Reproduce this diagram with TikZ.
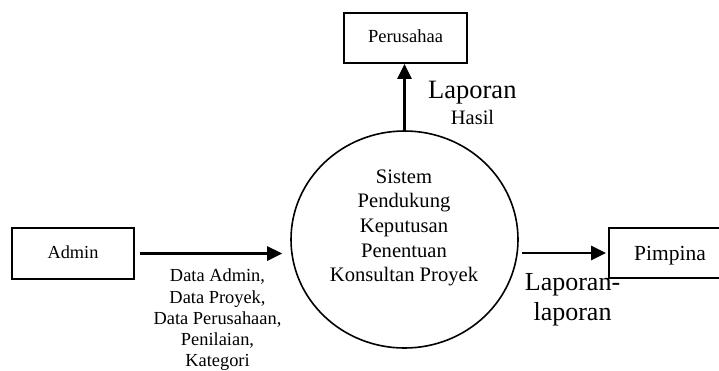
\documentclass[tikz,border=0pt]{standalone}
\usepackage{fontspec}
\setmainfont{Liberation Serif}
\usetikzlibrary{arrows.meta,shapes.geometric}
\begin{document}
\begin{tikzpicture}[x=1pt,y=-1pt,
  box/.style={draw,line width=1.8pt,minimum width=122pt,minimum height=50pt,inner sep=0pt,text height=13pt,text depth=4pt},
  proc/.style={draw,ellipse,line width=1.6pt,minimum width=227pt,minimum height=217pt,inner sep=0pt},
  flow/.style={line width=2.7pt,-{Triangle[length=15pt,width=14pt]}},
  lbl/.style={inner sep=0pt,align=center}]
\useasboundingbox (0,0) rectangle (719,370);
\clip (0,0) rectangle (719,370);
\node[proc] (sys) at (404.5,239.5) {};
\node[lbl,font=\fontsize{20.6}{24.6}\selectfont] (systxt) at (404,227.8) {Sistem\\Pendukung\\Keputusan\\Penentuan\\Konsultan Proyek};
\node[box,minimum width=123pt,font=\fontsize{18.5}{22}\selectfont] (per) at (405.5,38) {Perusahaa};
\node[box,minimum height=51pt,font=\fontsize{18.3}{22}\selectfont] (adm) at (73,253.5) {Admin};
\node[box,text height=15pt,text depth=1pt,font=\fontsize{21.5}{25}\selectfont] (pim) at (670,253) {Pimpina};
\draw[flow] (sys.north) -- (sys.north |- per.south);
\draw[flow] ([xshift=5pt]adm.east) -- ([xshift=-8pt]adm.east -| sys.west);
\draw[flow] ([xshift=3pt]sys.east |- pim.west) -- ([xshift=-2pt]pim.west);
\node[anchor=base west,inner sep=0pt,font=\fontsize{26.5}{30}\selectfont] (lh1) at (428,98) {Laporan};
\node[anchor=base west,inner sep=0pt,font=\fontsize{20.5}{24}\selectfont] (lh2) at (450.7,124) {Hasil};
\node[lbl,font=\fontsize{18.4}{21.25}\selectfont] (data) at (217.5,319.9) {Data Admin,\\Data Proyek,\\Data Perusahaan,\\Penilaian,\\Kategori};
\node[anchor=base,inner sep=0pt,font=\fontsize{26}{30}\selectfont] (ll1) at (572.5,290) {Laporan-};
\node[anchor=base,inner sep=0pt,font=\fontsize{26}{30}\selectfont] (ll2) at (572.5,320) {laporan};
\end{tikzpicture}
\end{document}
